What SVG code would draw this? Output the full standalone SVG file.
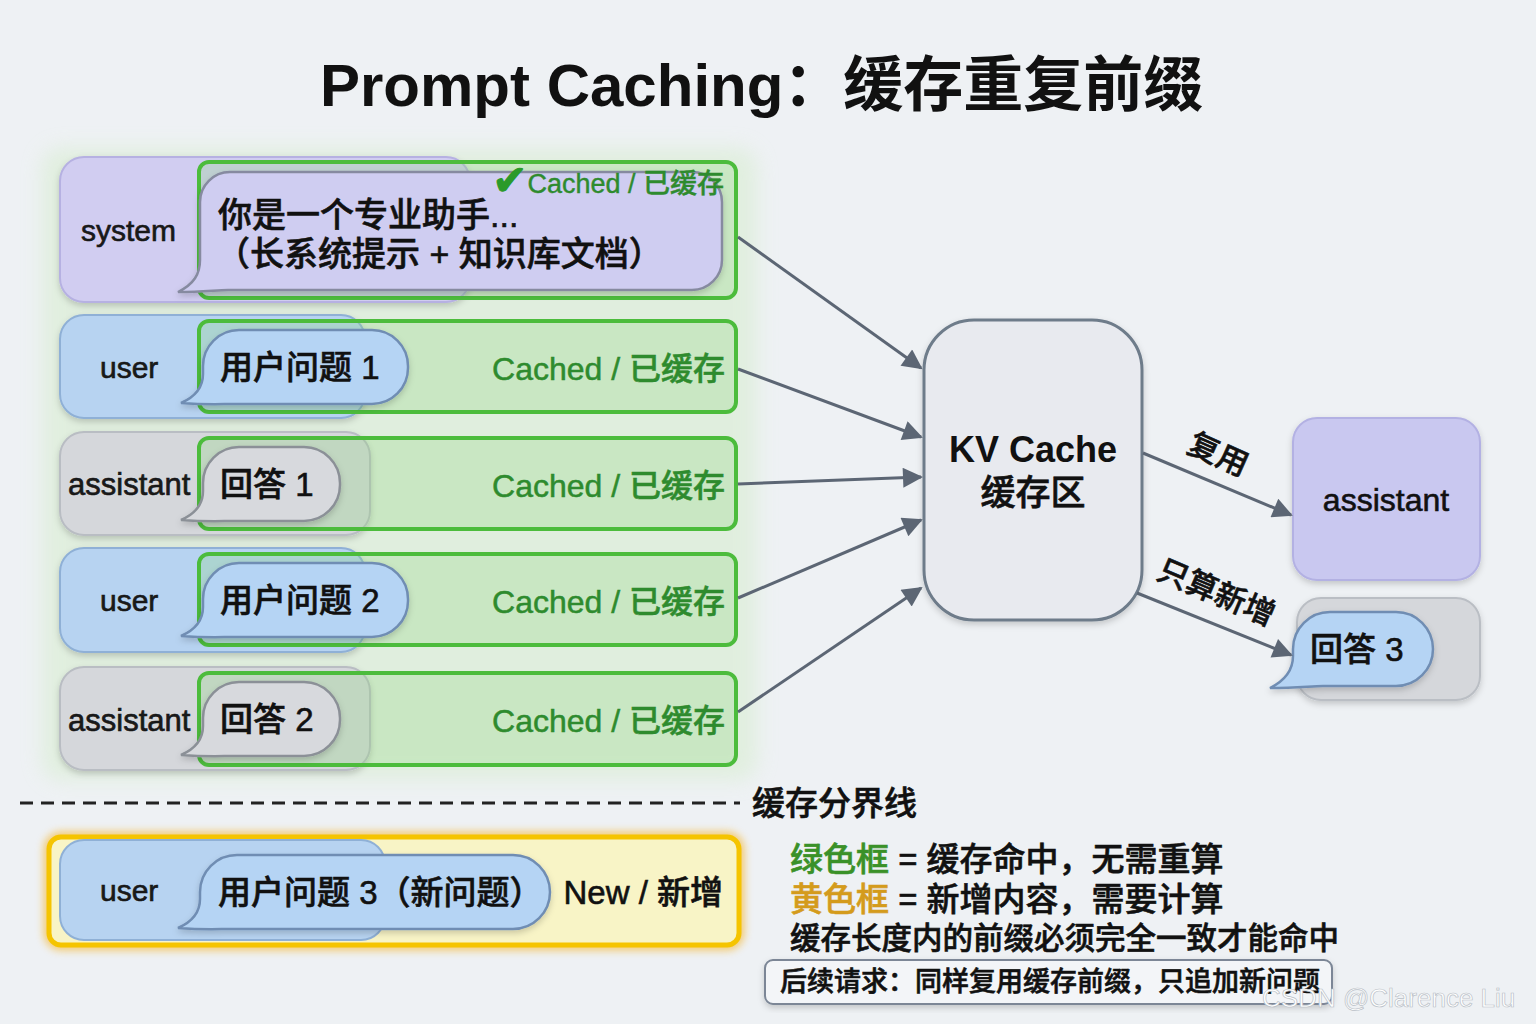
<svg xmlns="http://www.w3.org/2000/svg" width="1536" height="1024" viewBox="0 0 1536 1024">
<style>
text{font-family:"Liberation Sans","Noto Sans CJK SC",sans-serif;fill:#111;font-weight:500}
.thick{stroke:#111;stroke-width:0.6}
.t33{font-size:33px}
.t34{font-size:34px}
.role{font-size:30px;fill:#1a1a1a}
.cached{font-size:32px;fill:#2e8b2e;text-anchor:end;stroke:#2e8b2e;stroke-width:0.5}
.ru{fill:#b7d3f1;stroke:#8fb0d6;stroke-width:2}
.ra{fill:#d5d7db;stroke:#b9bdc3;stroke-width:2}
.rs{fill:#d1cdf1;stroke:#b6b1e2;stroke-width:2}
.gb{fill:#8fd67f;fill-opacity:0.28;stroke:#4cbc3c;stroke-width:4}
.bu{fill:#b5d4f4;stroke:#6f8db3;stroke-width:2.5}
.ba{fill:#d7d9dd;stroke:#8b9097;stroke-width:2.5}
.bs{fill:#cfcdf1;stroke:#868aa0;stroke-width:2.5}
.conn{stroke:#5c6674;stroke-width:3;fill:none}
</style>
<defs>
<marker id="ah" viewBox="0 0 10 10" refX="9" refY="5" markerWidth="24" markerHeight="20" markerUnits="userSpaceOnUse" orient="auto"><path d="M0,0 L10,5 L0,10 z" fill="#5c6674"/></marker>
<filter id="blur" x="-10%" y="-10%" width="120%" height="120%"><feGaussianBlur stdDeviation="10"/></filter>
<filter id="glowY" x="-10%" y="-20%" width="120%" height="140%"><feGaussianBlur stdDeviation="4"/></filter>
<filter id="sh" x="-10%" y="-10%" width="120%" height="130%"><feDropShadow dx="0" dy="3" stdDeviation="3" flood-color="#000" flood-opacity="0.18"/></filter>
</defs>
<rect width="1536" height="1024" fill="#eef1f4"/>
<rect x="42" y="148" width="715" height="632" rx="20" fill="#d6edcd" opacity="0.55" filter="url(#blur)"/>

<text x="320" y="106" font-size="60" style="font-weight:bold">Prompt Caching：缓存重复前缀</text>

<g id="row-system">
<rect class="rs" x="60" y="157" width="410" height="145" rx="24" filter="url(#sh)"/>
<text class="role thick" x="81" y="241">system</text>
<rect class="gb" x="199" y="162" width="537" height="136" rx="10"/>
<path class="bs" filter="url(#sh)" d="M230,172 H692 A30,30 0 0 1 722,202 V260 A30,30 0 0 1 692,290 H228 C216,290 204,292 178,292 C194,284 200,274 200,260 V202 A30,30 0 0 1 230,172 Z"/>
<text x="724" y="193" font-size="27" text-anchor="end" style="fill:#2e8b2e;stroke:#2e8b2e;stroke-width:0.4"><tspan font-family="DejaVu Sans" font-size="42" dy="2" style="fill:#2a9a2a;stroke:#2a9a2a;stroke-width:1">✔</tspan><tspan dy="-2">Cached / 已缓存</tspan></text>
<text class="t34 thick" x="218" y="227">你是一个专业助手...</text>
<text class="t34 thick" x="216" y="266">（长系统提示 + 知识库文档）</text>
</g>

<g id="row-user1">
<rect class="ru" x="60" y="315" width="305" height="103" rx="24" filter="url(#sh)"/>
<text class="role thick" x="100" y="378">user</text>
<rect class="gb" x="199" y="321" width="537" height="91" rx="10"/>
<path class="bu" filter="url(#sh)" d="M239,330 H372 A36,36 0 0 1 408,366 V368 A36,36 0 0 1 372,404 H233 C221,404 208,405 181,403 C197,396 203,386 203,374 V366 A36,36 0 0 1 239,330 Z"/>
<text class="t33 thick" x="220" y="379">用户问题 1</text>
<text class="cached" x="725" y="380">Cached / 已缓存</text>
</g>

<g id="row-assistant1">
<rect class="ra" x="60" y="432" width="310" height="103" rx="24" filter="url(#sh)"/>
<text class="role thick" x="68" y="495" style="font-size:31px">assistant</text>
<rect class="gb" x="199" y="438" width="537" height="91" rx="10"/>
<path class="ba" filter="url(#sh)" d="M239,447 H304 A36,36 0 0 1 340,483 V485 A36,36 0 0 1 304,521 H233 C221,521 208,522 181,520 C197,513 203,503 203,491 V483 A36,36 0 0 1 239,447 Z"/>
<text class="t33 thick" x="220" y="496">回答 1</text>
<text class="cached" x="725" y="497">Cached / 已缓存</text>
</g>

<g id="row-user2">
<rect class="ru" x="60" y="548" width="305" height="104" rx="24" filter="url(#sh)"/>
<text class="role thick" x="100" y="611">user</text>
<rect class="gb" x="199" y="554" width="537" height="91" rx="10"/>
<path class="bu" filter="url(#sh)" d="M239,563 H372 A36,36 0 0 1 408,599 V601 A36,36 0 0 1 372,637 H233 C221,637 208,638 181,636 C197,629 203,619 203,607 V599 A36,36 0 0 1 239,563 Z"/>
<text class="t33 thick" x="220" y="612">用户问题 2</text>
<text class="cached" x="725" y="613">Cached / 已缓存</text>
</g>

<g id="row-assistant2">
<rect class="ra" x="60" y="667" width="310" height="103" rx="24" filter="url(#sh)"/>
<text class="role thick" x="68" y="731" style="font-size:31px">assistant</text>
<rect class="gb" x="199" y="673" width="537" height="92" rx="10"/>
<path class="ba" filter="url(#sh)" d="M239,682 H304 A36,36 0 0 1 340,718 V720 A36,36 0 0 1 304,756 H233 C221,756 208,757 181,755 C197,748 203,738 203,726 V718 A36,36 0 0 1 239,682 Z"/>
<text class="t33 thick" x="220" y="731">回答 2</text>
<text class="cached" x="725" y="732">Cached / 已缓存</text>
</g>

<g id="boundary">
<line x1="20" y1="803" x2="740" y2="803" stroke="#222" stroke-width="3" stroke-dasharray="13 8"/>
<text class="thick" x="752" y="815" font-size="33">缓存分界线</text>
</g>

<g id="row-user3">
<rect x="49" y="837" width="690" height="108" rx="12" fill="none" stroke="#f7a800" stroke-width="10" opacity="0.6" filter="url(#glowY)"/>
<rect x="49" y="837" width="690" height="108" rx="12" fill="#f8f4c6" stroke="#f5c400" stroke-width="5"/>
<rect class="ru" x="60" y="840" width="325" height="100" rx="24"/>
<text class="role thick" x="100" y="901">user</text>
<path class="bu" filter="url(#sh)" d="M237,855 H513 A37,37 0 0 1 550,892 A37,37 0 0 1 513,929 H230 C218,929 205,930 178,928 C194,921 200,911 200,899 V892 A37,37 0 0 1 237,855 Z"/>
<text class="t33 thick" x="218" y="904">用户问题 3（新问题）</text>
<text class="thick" x="723" y="904" font-size="33" text-anchor="end">New / 新增</text>
</g>

<g id="kv-cache">
<rect x="924" y="320" width="218" height="300" rx="50" fill="#e8eaef" stroke="#6e7b8a" stroke-width="3" filter="url(#sh)"/>
<text x="1033" y="462" font-size="36" text-anchor="middle" style="font-weight:bold">KV Cache</text>
<text class="thick" x="1033" y="505" font-size="35" text-anchor="middle">缓存区</text>
</g>

<g id="out-assistant">
<rect x="1293" y="418" width="187" height="162" rx="24" fill="#c9c8f0" stroke="#b3b1e3" stroke-width="2" filter="url(#sh)"/>
<text class="thick" x="1386" y="511" font-size="32" text-anchor="middle">assistant</text>
</g>

<g id="out-answer3">
<rect x="1297" y="598" width="183" height="102" rx="24" fill="#d5d7db" stroke="#babec4" stroke-width="2" filter="url(#sh)"/>
<path class="bu" filter="url(#sh)" d="M1330,612 H1396 A37,37 0 0 1 1433,649 A37,37 0 0 1 1396,686 H1323 C1311,686 1298,688 1270,688 C1286,680 1293,670 1293,656 V649 A37,37 0 0 1 1330,612 Z"/>
<text class="t33 thick" x="1310" y="661">回答 3</text>
</g>

<g id="connectors">
<line class="conn" x1="738" y1="237" x2="921" y2="368" marker-end="url(#ah)"/>
<line class="conn" x1="738" y1="369" x2="921" y2="437" marker-end="url(#ah)"/>
<line class="conn" x1="738" y1="484" x2="921" y2="477" marker-end="url(#ah)"/>
<line class="conn" x1="738" y1="598" x2="921" y2="520" marker-end="url(#ah)"/>
<line class="conn" x1="738" y1="712" x2="921" y2="588" marker-end="url(#ah)"/>
<line class="conn" x1="1143" y1="453" x2="1291" y2="515" marker-end="url(#ah)"/>
<line class="conn" x1="1137" y1="593" x2="1291" y2="655" marker-end="url(#ah)"/>
<text class="thick" x="1218" y="465" font-size="31" text-anchor="middle" transform="rotate(24 1218 455)">复用</text>
<text class="thick" x="1216" y="603" font-size="31" text-anchor="middle" transform="rotate(23 1216 593)">只算新增</text>
</g>

<g id="legend">
<text class="thick" x="790" y="871" font-size="33"><tspan style="fill:#3a9128;stroke:#3a9128">绿色框</tspan> = 缓存命中，无需重算</text>
<text class="thick" x="790" y="911" font-size="33"><tspan style="fill:#d49b1c;stroke:#d49b1c">黄色框</tspan> = 新增内容，需要计算</text>
<text class="thick" x="790" y="949" font-size="30.5">缓存长度内的前缀必须完全一致才能命中</text>
<rect x="765" y="960" width="567" height="44" rx="8" fill="#f3f5f8" stroke="#7b8696" stroke-width="2" filter="url(#sh)"/>
<text class="thick" x="780" y="991" font-size="27">后续请求：同样复用缓存前缀，只追加新问题</text>
</g>

<text x="1262" y="1007" font-size="26" style="fill:#ffffff;stroke:#b9bfc7;stroke-width:0.7;font-weight:normal">CSDN @Clarence Liu</text>
</svg>
